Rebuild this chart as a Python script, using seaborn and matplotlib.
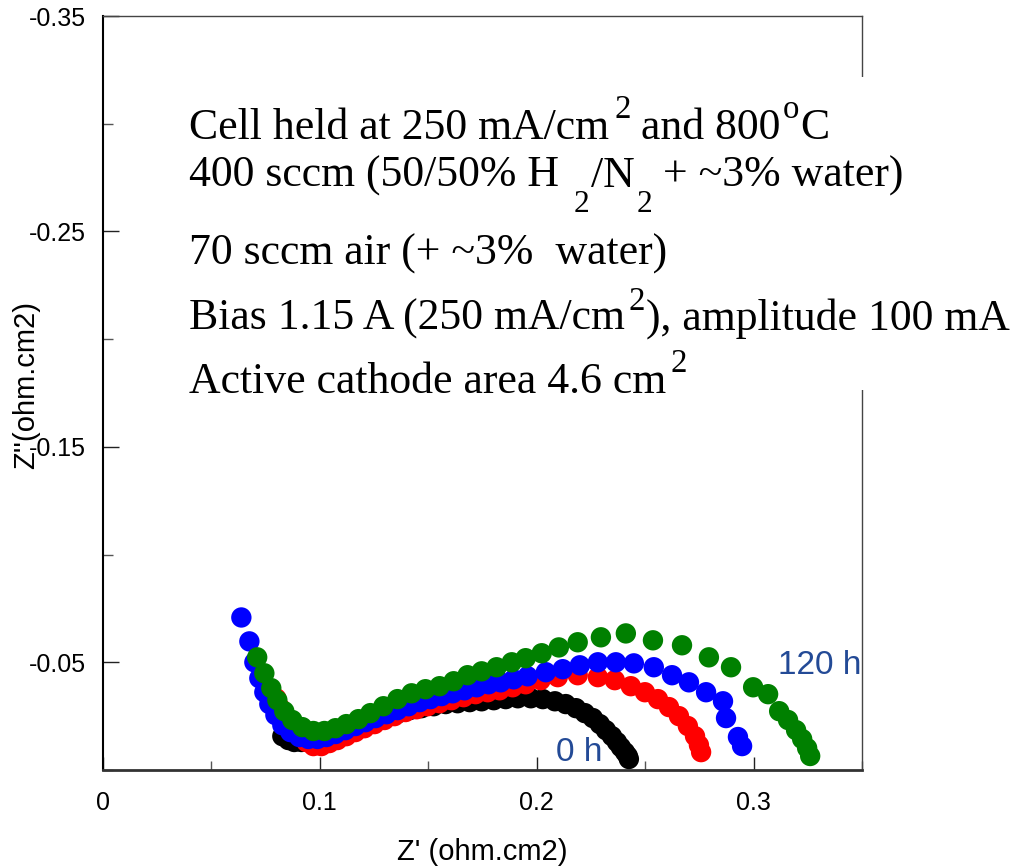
import numpy as np
import pandas as pd
import matplotlib
matplotlib.use("Agg")
import matplotlib.pyplot as plt
from matplotlib.patches import Rectangle
from matplotlib.ticker import FixedLocator, FixedFormatter
import seaborn as sns

# Nyquist data (Z' real part, Z'' imaginary part), ohm.cm2
h0_zre = [0.0827, 0.0855, 0.0882, 0.0915, 0.0952, 0.0989, 0.1030, 0.1072, 0.1118, 0.1164,
          0.1210, 0.1261, 0.1312, 0.1363, 0.1414, 0.1469, 0.1525, 0.1580, 0.1635, 0.1691,
          0.1746, 0.1802, 0.1857, 0.1913, 0.1973, 0.2028, 0.2084, 0.2134, 0.2181, 0.2222,
          0.2259, 0.2291, 0.2319, 0.2347, 0.2370, 0.2388, 0.2407, 0.2420, 0.2425]
h0_zim = [-0.0157, -0.0139, -0.0130, -0.0130, -0.0134, -0.0144, -0.0157, -0.0171, -0.0185, -0.0199,
          -0.0218, -0.0232, -0.0250, -0.0264, -0.0278, -0.0287, -0.0296, -0.0306, -0.0310, -0.0315,
          -0.0319, -0.0324, -0.0329, -0.0333, -0.0333, -0.0329, -0.0319, -0.0306, -0.0287, -0.0264,
          -0.0241, -0.0213, -0.0185, -0.0157, -0.0130, -0.0106, -0.0083, -0.0065, -0.0051]

h_mid1_zre = [0.0799, 0.0818, 0.0845, 0.0873, 0.0905, 0.0938, 0.0970, 0.1007, 0.1044, 0.1081,
              0.1122, 0.1164, 0.1206, 0.1252, 0.1298, 0.1344, 0.1395, 0.1446, 0.1497, 0.1552,
              0.1607, 0.1663, 0.1718, 0.1774, 0.1829, 0.1889, 0.1949, 0.2018, 0.2097, 0.2189,
              0.2282, 0.2360, 0.2434, 0.2499, 0.2559, 0.2610, 0.2656, 0.2697, 0.2730, 0.2748,
              0.2758]
h_mid1_zim = [-0.0333, -0.0287, -0.0241, -0.0194, -0.0157, -0.0130, -0.0111, -0.0111, -0.0125, -0.0139,
              -0.0157, -0.0176, -0.0194, -0.0213, -0.0232, -0.0250, -0.0269, -0.0282, -0.0296, -0.0310,
              -0.0324, -0.0338, -0.0352, -0.0361, -0.0370, -0.0384, -0.0398, -0.0417, -0.0431, -0.0440,
              -0.0431, -0.0417, -0.0389, -0.0361, -0.0329, -0.0292, -0.0250, -0.0204, -0.0157, -0.0116,
              -0.0083]

h_mid2_zre = [0.0638, 0.0675, 0.0698, 0.0721, 0.0744, 0.0767, 0.0795, 0.0827, 0.0864, 0.0905,
              0.0947, 0.0989, 0.1030, 0.1072, 0.1118, 0.1164, 0.1210, 0.1257, 0.1307, 0.1358,
              0.1409, 0.1460, 0.1510, 0.1561, 0.1612, 0.1667, 0.1723, 0.1778, 0.1834, 0.1894,
              0.1958, 0.2042, 0.2120, 0.2199, 0.2282, 0.2365, 0.2448, 0.2540, 0.2624, 0.2702,
              0.2781, 0.2859, 0.2873, 0.2928, 0.2947]
h_mid2_zim = [-0.0708, -0.0597, -0.0500, -0.0426, -0.0361, -0.0306, -0.0255, -0.0208, -0.0176, -0.0153,
              -0.0144, -0.0144, -0.0153, -0.0167, -0.0185, -0.0204, -0.0222, -0.0241, -0.0259, -0.0278,
              -0.0296, -0.0315, -0.0329, -0.0343, -0.0356, -0.0370, -0.0384, -0.0398, -0.0407, -0.0421,
              -0.0435, -0.0454, -0.0468, -0.0486, -0.0500, -0.0500, -0.0495, -0.0477, -0.0440, -0.0407,
              -0.0361, -0.0319, -0.0241, -0.0153, -0.0111]

h120_zre = [0.0711, 0.0744, 0.0776, 0.0804, 0.0836, 0.0873, 0.0919, 0.0970, 0.1021, 0.1072,
            0.1122, 0.1178, 0.1233, 0.1293, 0.1358, 0.1423, 0.1487, 0.1552, 0.1617, 0.1681,
            0.1746, 0.1815, 0.1885, 0.1949, 0.2023, 0.2102, 0.2189, 0.2296, 0.2411, 0.2536,
            0.2670, 0.2794, 0.2896, 0.2998, 0.3067, 0.3118, 0.3159, 0.3196, 0.3224, 0.3247,
            0.3261]
h120_zim = [-0.0523, -0.0449, -0.0380, -0.0324, -0.0273, -0.0232, -0.0199, -0.0181, -0.0181, -0.0194,
            -0.0213, -0.0236, -0.0264, -0.0296, -0.0329, -0.0356, -0.0375, -0.0389, -0.0412, -0.0440,
            -0.0458, -0.0477, -0.0500, -0.0519, -0.0542, -0.0569, -0.0593, -0.0616, -0.0634, -0.0602,
            -0.0579, -0.0523, -0.0477, -0.0384, -0.0352, -0.0273, -0.0232, -0.0185, -0.0144, -0.0102,
            -0.0065]

series_names = ["0 h", "mid 1", "mid 2", "120 h"]
series_colors = ["#000000", "#ff0000", "#0000ff", "#008000"]

x_major = [0.0, 0.1, 0.2, 0.3]
x_major_labels = ["0", "0.1", "0.2", "0.3"]
x_minor = [0.05, 0.15, 0.25, 0.35]
y_major = [-0.35, -0.25, -0.15, -0.05]
y_major_labels = ["-0.35", "-0.25", "-0.15", "-0.05"]
y_minor = [-0.30, -0.20, -0.10, 0.0]

frames = []
for name, xs, ys in zip(series_names,
                        [h0_zre, h_mid1_zre, h_mid2_zre, h120_zre],
                        [h0_zim, h_mid1_zim, h_mid2_zim, h120_zim]):
    frames.append(pd.DataFrame({"zre": xs, "zim": ys, "series": name}))
df = pd.concat(frames, ignore_index=True)

sns.set_style("ticks")
plt.rcParams["font.family"] = ["Liberation Sans", "DejaVu Sans"]
plt.rcParams["text.color"] = "black"
plt.rcParams["axes.labelcolor"] = "black"
plt.rcParams["xtick.labelcolor"] = "black"
plt.rcParams["ytick.labelcolor"] = "black"

W, H = 1018, 866
fig = plt.figure(figsize=(W / 100, H / 100), dpi=100)
ax = fig.add_axes([103 / W, 1 - 770 / H, (862 - 103) / W, (770 - 16) / H])

sns.scatterplot(data=df, x="zre", y="zim", hue="series", hue_order=series_names,
                palette=series_colors, s=215, linewidth=0, edgecolor="none",
                legend=False, ax=ax, zorder=3)

ax.set_xlim(0, 0.35)
ax.set_ylim(0, -0.35)

ax.xaxis.set_major_locator(FixedLocator(x_major))
ax.xaxis.set_major_formatter(FixedFormatter(x_major_labels))
ax.xaxis.set_minor_locator(FixedLocator(x_minor))
ax.yaxis.set_major_locator(FixedLocator(y_major))
ax.yaxis.set_major_formatter(FixedFormatter(y_major_labels))
ax.yaxis.set_minor_locator(FixedLocator(y_minor))

ax.tick_params(axis="x", which="major", direction="in", length=9.5, width=1.0,
               color="#222222", labelcolor="black", labelsize=18, pad=15, top=False)
ax.tick_params(axis="x", which="minor", direction="in", length=6.5, width=1.0,
               color="#555555", top=False)
ax.tick_params(axis="y", which="major", direction="in", length=11.5, width=1.0,
               color="#222222", labelcolor="black", labelsize=18, pad=12, right=False)
ax.tick_params(axis="y", which="minor", direction="in", length=7, width=1.0,
               color="#555555", right=False)

ax.spines["left"].set_linewidth(1.5)
ax.spines["left"].set_color("#000000")
ax.spines["bottom"].set_linewidth(2.0)
ax.spines["bottom"].set_color("#333333")
for side in ("top", "right"):
    ax.spines[side].set_linewidth(1.0)
    ax.spines[side].set_color("#444444")

ax.set_xlabel("Z' (ohm.cm2)", fontsize=21, color="black")
ax.set_ylabel("Z''(ohm.cm2)", fontsize=21, color="black")
ax.xaxis.set_label_coords(0.5, -0.090)
ax.yaxis.set_label_coords(-0.083, 0.51)

# Series labels
label_color = "#234a96"
ax.text(0.2194, -0.0083, "0 h", color=label_color, fontsize=24,
        ha="center", va="center", zorder=4)
ax.text(0.3303, -0.0486, "120 h", color=label_color, fontsize=24,
        ha="center", va="center", zorder=4)

# White panel behind the test-condition notes
fig.patches.append(Rectangle((170 / W, 1 - 390 / H), 1 - 170 / W, (390 - 77) / H,
                             transform=fig.transFigure, facecolor="white",
                             edgecolor="none", zorder=2))

serif = ["Liberation Serif", "DejaVu Serif"]
base_size = 31.5
renderer = fig.canvas.get_renderer()


def draw_line(x_px, baseline_px, segments):
    """Draw a run of text pieces: (text, size scale, lift in px, gap before in px)."""
    x = x_px
    for txt, scale, lift, gap in segments:
        x += gap
        t = fig.text(x / W, 1 - (baseline_px - lift) / H, txt, fontsize=base_size * scale,
                     family=serif, color="black", ha="left", va="baseline", zorder=5)
        bb = t.get_window_extent(renderer)
        x = bb.x1


notes = [
    (139, [("Cell held at 250 mA/cm", 1, 0, 0), ("2", 0.75, 21, 5), (" and 800", 1, 0, 0),
           ("o", 0.75, 21, 2), ("C", 1, 0, 1)]),
    (187, [("400 sccm (50/50% H", 1, 0, 0), ("2", 0.72, -25, 15), ("/N", 1, 0, 1),
           ("2", 0.72, -25, 2), (" + ~3% water)", 1, 0, 0)]),
    (265, [("70 sccm air (+ ~3%  water)", 1, 0, 0)]),
    (330, [("Bias 1.15 A (250 mA/cm", 1, 0, 0), ("2", 0.75, 20, 4),
           ("), amplitude 100 mA", 1, 0, 1)]),
    (393, [("Active cathode area 4.6 cm", 1, 0, 0), ("2", 0.75, 21, 4)]),
]
for baseline, segs in notes:
    draw_line(189, baseline, segs)

fig.savefig("out.png", dpi=100, facecolor="white")
